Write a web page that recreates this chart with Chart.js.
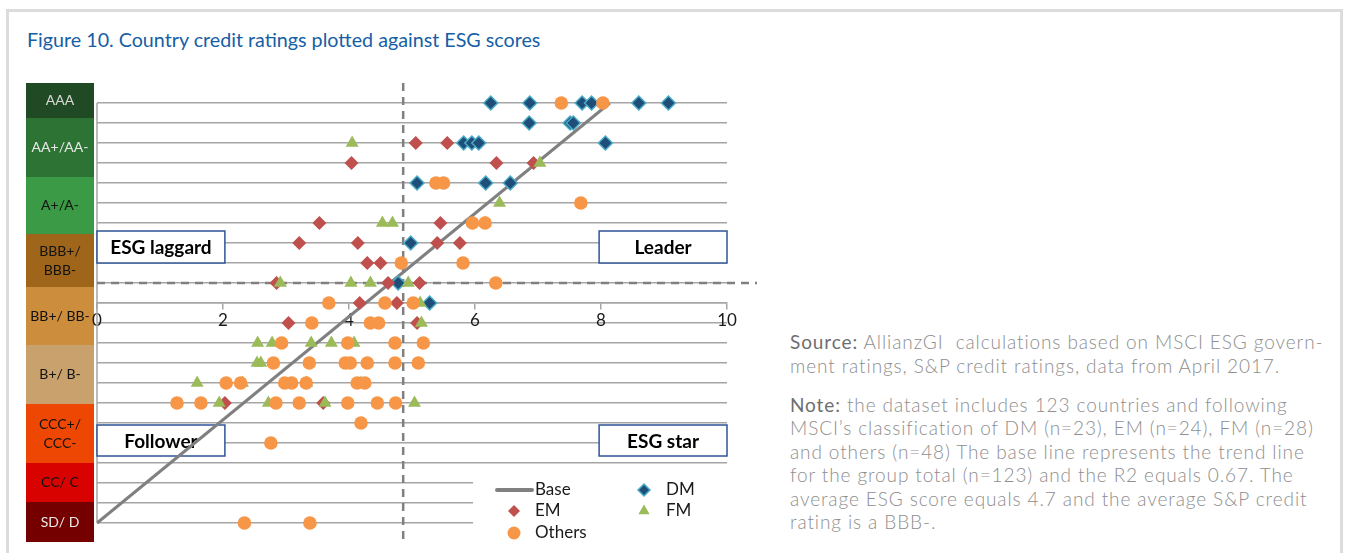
<!DOCTYPE html>
<html>
<head>
<meta charset="utf-8">
<script src="https://cdn.jsdelivr.net/npm/chart.js@4.4.1/dist/chart.umd.min.js"></script>
<style>
  html, body { margin: 0; padding: 0; background: #fff; }
  body { width: 1351px; height: 553px; position: relative; overflow: hidden; font-family: Lato, 'Open Sans', sans-serif; }
  .frame { position: absolute; left: 6px; top: 9px; width: 1331px; height: 600px; border: 3px solid #dcdcdc; }
  .title { position: absolute; left: 27px; top: 28px; font-size: 19.7px; color: #1560a5; white-space: nowrap; }
  #wrap { position: absolute; left: 0; top: 0; width: 780px; height: 553px; }
  .note { position: absolute; left: 790px; top: 330px; font-size: 19px; letter-spacing: 0.9px; line-height: 23.5px; color: #8e8e8e; font-weight: 300; white-space: nowrap; }
  .note b { font-weight: 400; color: #6e6e6e; }
  .note p { margin: 0 0 15.5px 0; }
</style>
</head>
<body>
<div class="frame"></div>
<div class="title">Figure 10. Country credit ratings plotted against ESG scores</div>
<div id="wrap"><canvas id="esgChart"></canvas></div>
<div class="note">
  <p><b>Source:</b> AllianzGI&nbsp; calculations based on MSCI ESG govern-<br>ment ratings, S&amp;P credit ratings, data from April 2017.</p>
  <p><b>Note:</b> the dataset includes 123 countries and following<br>MSCI’s classification of DM (n=23), EM (n=24), FM (n=28)<br>and others (n=48) The base line represents the trend line<br>for the group total (n=123) and the R2 equals 0.67. The<br>average ESG score equals 4.7 and the average S&amp;P credit<br>rating is a BBB-.</p>
</div>
<script>
// rating scale, bottom (index 0) to top
const ratingLevels = ['SD/D', 'C', 'CC', 'CCC-', 'CCC', 'CCC+', 'B-', 'B', 'B+', 'BB-', 'BB', 'BB+',
  'BBB-', 'BBB', 'BBB+', 'A-', 'A', 'A+', 'AA-', 'AA', 'AA+', 'AAA'];

// coloured rating bands on the left
const bandLabels = ['AAA', 'AA+/AA-', 'A+/A-', 'BBB+/\nBBB-', 'BB+/ BB-', 'B+/ B-', 'CCC+/\nCCC-', 'CC/ C', 'SD/ D'];
const bandEdges = [22, 20.25, 17.3, 14.45, 11.8, 8.9, 5.95, 3.0, 1.05, -0.95];
const bandColors = ['#1f4a24', '#2c7334', '#3b9a45', '#9f661b', '#cc8e3c', '#c9a16c', '#ee4704', '#d80300', '#750000'];
const bandTextColors = ['#d8d8d8', '#e8e8e8', '#111', '#111', '#111', '#111', '#111', '#111', '#e8e8e8'];

const esgTicks = [0, 2, 4, 6, 8, 10];

// [ESG score, S&P rating]
const dmPoints = [
  [6.25, 'AAA'], [6.87, 'AAA'], [7.70, 'AAA'], [7.85, 'AAA'], [8.60, 'AAA'], [9.07, 'AAA'],
  [6.86, 'AA+'], [7.51, 'AA+'], [7.56, 'AA+'],
  [5.82, 'AA'], [5.95, 'AA'], [6.06, 'AA'], [8.07, 'AA'],
  [5.08, 'A+'], [6.17, 'A+'], [6.56, 'A+'],
  [4.98, 'BBB+'], [4.78, 'BBB-'], [5.28, 'BB+']
];
const emPoints = [
  [5.06, 'AA'], [5.56, 'AA'],
  [4.04, 'AA-'], [6.34, 'AA-'], [6.93, 'AA-'],
  [3.53, 'A-'], [5.45, 'A-'],
  [3.21, 'BBB+'], [4.14, 'BBB+'], [5.40, 'BBB+'], [5.76, 'BBB+'],
  [4.29, 'BBB'], [4.50, 'BBB'],
  [2.85, 'BBB-'], [4.62, 'BBB-'], [5.12, 'BBB-'],
  [4.17, 'BB+'], [4.76, 'BB+'],
  [3.04, 'BB'], [5.08, 'BB'],
  [2.03, 'B-'], [3.59, 'B-']
];
const fmPoints = [
  [4.05, 'AA'], [7.03, 'AA-'], [6.39, 'A'],
  [4.53, 'A-'], [4.69, 'A-'], [6.16, 'A-'],
  [2.91, 'BBB-'], [4.03, 'BBB-'], [4.34, 'BBB-'], [4.94, 'BBB-'],
  [5.13, 'BB+'], [5.15, 'BB'],
  [2.55, 'BB-'], [2.78, 'BB-'], [3.40, 'BB-'], [3.72, 'BB-'], [4.08, 'BB-'],
  [2.54, 'B+'], [2.60, 'B+'],
  [1.59, 'B'], [2.31, 'B'], [3.33, 'B'], [4.19, 'B'],
  [1.94, 'B-'], [2.72, 'B-'], [3.62, 'B-'], [5.04, 'B-']
];
const otherPoints = [
  [7.37, 'AAA'], [8.03, 'AAA'],
  [5.38, 'A+'], [5.50, 'A+'], [7.68, 'A'],
  [5.96, 'A-'], [6.16, 'A-'],
  [4.83, 'BBB'], [5.81, 'BBB'], [6.33, 'BBB-'],
  [3.68, 'BB+'], [4.57, 'BB+'], [5.02, 'BB+'],
  [3.41, 'BB'], [4.34, 'BB'], [4.47, 'BB'],
  [2.93, 'BB-'], [3.98, 'BB-'], [4.73, 'BB-'], [5.18, 'BB-'],
  [2.80, 'B+'], [3.37, 'B+'], [3.94, 'B+'], [4.02, 'B+'], [4.29, 'B+'], [4.73, 'B+'], [5.10, 'B+'],
  [2.05, 'B'], [2.28, 'B'], [2.98, 'B'], [3.09, 'B'], [3.32, 'B'], [4.13, 'B'], [4.25, 'B'],
  [1.27, 'B-'], [1.65, 'B-'], [2.84, 'B-'], [3.21, 'B-'], [3.98, 'B-'], [4.45, 'B-'], [4.74, 'B-'],
  [4.19, 'CCC+'], [2.76, 'CCC'],
  [2.34, 'SD/D'], [3.38, 'SD/D']
];
const basePoints = [[0, 'SD/D'], [8.14, 'AAA']];

const avgEsg = 4.86;
const avgRating = 'BBB-';

const toXY = pts => pts.map(([x, r]) => ({ x: x, y: ratingLevels.indexOf(r) }));

const gridColor = '#a5a5a5';
const font = 'Lato, "Open Sans", sans-serif';

const decor = {
  id: 'decor',
  beforeDraw(chart) {
    const { ctx, chartArea: ca, scales: { y } } = chart;
    ctx.save();
    bandLabels.forEach((label, i) => {
      const top = y.getPixelForValue(bandEdges[i]);
      const bot = y.getPixelForValue(bandEdges[i + 1]);
      ctx.fillStyle = bandColors[i];
      ctx.fillRect(ca.left - 71, top, 68, bot - top);
      ctx.fillStyle = bandTextColors[i];
      ctx.font = '14px ' + font;
      ctx.textAlign = 'center';
      ctx.textBaseline = 'middle';
      const lines = label.split('\n');
      const mid = (top + bot) / 2;
      lines.forEach((ln, k) => {
        ctx.fillText(ln, ca.left - 37, mid + (k - (lines.length - 1) / 2) * 19);
      });
    });
    ctx.restore();
  },
  beforeDatasetsDraw(chart) {
    const { ctx, chartArea: ca, scales: { x, y } } = chart;
    ctx.save();
    // left axis line
    ctx.strokeStyle = gridColor;
    ctx.lineWidth = 1.5;
    ctx.beginPath();
    ctx.moveTo(x.getPixelForValue(0), y.getPixelForValue(0));
    ctx.lineTo(x.getPixelForValue(0), y.getPixelForValue(ratingLevels.length - 1));
    ctx.stroke();

    // quadrant boxes
    const boxes = [
      ['ESG laggard', 0, 2.03, 14.6, 13.0],
      ['Leader', 7.97, 10, 14.6, 13.0],
      ['Follower', 0, 2.03, 4.9, 3.35],
      ['ESG star', 7.97, 10, 4.9, 3.35]
    ];
    boxes.forEach(([txt, x0, x1, y0, y1]) => {
      const l = x.getPixelForValue(x0), r = x.getPixelForValue(x1);
      const t = y.getPixelForValue(y0), b = y.getPixelForValue(y1);
      ctx.fillStyle = '#fff';
      ctx.fillRect(l, t, r - l, b - t);
      ctx.strokeStyle = '#2f5496';
      ctx.lineWidth = 1.5;
      ctx.strokeRect(l, t, r - l, b - t);
      ctx.fillStyle = '#000';
      ctx.font = 'bold 19px ' + font;
      ctx.textAlign = 'center';
      ctx.textBaseline = 'middle';
      ctx.fillText(txt, (l + r) / 2, (t + b) / 2 + 1);
    });

    // average lines
    ctx.strokeStyle = '#808080';
    ctx.lineWidth = 2.5;
    ctx.setLineDash([8, 6]);
    const ax = x.getPixelForValue(avgEsg);
    ctx.beginPath();
    ctx.moveTo(ax, ca.top);
    ctx.lineTo(ax, ca.bottom + 2);
    ctx.stroke();
    const ay = y.getPixelForValue(ratingLevels.indexOf(avgRating));
    ctx.beginPath();
    ctx.moveTo(ca.left, ay);
    ctx.lineTo(ca.right + 30, ay);
    ctx.stroke();
    ctx.restore();
  },
  afterDraw(chart) {
    const { ctx, chartArea: ca } = chart;
    const ds = chart.data.datasets;
    const byLabel = l => ds.find(d => d.label === l);
    const left = ca.right - 254, top = ca.bottom - 70;
    ctx.save();
    ctx.fillStyle = '#fff';
    ctx.fillRect(left, top, ca.right - left + 1, ca.bottom - top + 4);
    const items = [
      ['Base', 0, ca.bottom - 53], ['DM', 1, ca.bottom - 53],
      ['EM', 0, ca.bottom - 32], ['FM', 1, ca.bottom - 32],
      ['Others', 0, ca.bottom - 10]
    ];
    items.forEach(([label, col, yy]) => {
      const d = byLabel(label);
      const mx = left + (col ? 171 : 41);
      if (label === 'Base') {
        ctx.strokeStyle = d.borderColor;
        ctx.lineWidth = 4;
        ctx.lineCap = 'round';
        ctx.beginPath();
        ctx.moveTo(left + 24, yy);
        ctx.lineTo(left + 59, yy);
        ctx.stroke();
      } else {
        ctx.fillStyle = d.backgroundColor;
        ctx.strokeStyle = d.borderColor;
        ctx.lineWidth = d.borderWidth;
        Chart.helpers.drawPoint(ctx, { pointStyle: d.pointStyle, radius: label === 'EM' || label === 'DM' ? 6 : 6.5, rotation: 0, borderWidth: d.borderWidth }, mx, yy);
      }
      ctx.fillStyle = '#1a1a1a';
      ctx.font = '17px ' + font;
      ctx.textAlign = 'left';
      ctx.textBaseline = 'middle';
      ctx.fillText(label, left + (col ? 193 : 62), yy);
    });
    ctx.restore();
  }
};

new Chart(document.getElementById('esgChart'), {
  type: 'scatter',
  data: {
    datasets: [
      {
        label: 'Base', type: 'line', data: toXY(basePoints), showLine: true,
        borderColor: '#808080', borderWidth: 3, pointRadius: 0, order: 4
      },
      {
        label: 'DM', data: toXY(dmPoints), pointStyle: 'rectRot', pointRadius: 7,
        backgroundColor: '#1f4e79', borderColor: '#4bacc6', borderWidth: 1.5, order: 3
      },
      {
        label: 'EM', data: toXY(emPoints), pointStyle: 'rectRot', pointRadius: 7,
        backgroundColor: '#c0504d', borderColor: '#c0504d', borderWidth: 0, order: 2
      },
      {
        label: 'FM', data: toXY(fmPoints), pointStyle: 'triangle', pointRadius: 7.5,
        backgroundColor: '#9bbb59', borderColor: '#9bbb59', borderWidth: 0, order: 1
      },
      {
        label: 'Others', data: toXY(otherPoints), pointStyle: 'circle', pointRadius: 6.8,
        backgroundColor: '#f79646', borderColor: '#f79646', borderWidth: 0, order: 0
      }
    ]
  },
  options: {
    responsive: true,
    maintainAspectRatio: false,
    animation: false,
    events: [],
    layout: { padding: { left: 97, top: 83, right: 53, bottom: 10 } },
    plugins: { legend: { display: false }, tooltip: { enabled: false } },
    scales: {
      x: {
        type: 'linear',
        min: 0, max: 10,
        position: { y: ratingLevels.indexOf('BB+') },
        afterBuildTicks: axis => { axis.ticks = esgTicks.map(v => ({ value: v })); },
        grid: { drawOnChartArea: false, drawTicks: true, tickLength: 6, color: gridColor, lineWidth: 1.5 },
        border: { color: gridColor, width: 1.5 },
        ticks: { color: '#1a1a1a', font: { family: font, size: 17 }, padding: 1, maxRotation: 0 }
      },
      y: {
        type: 'linear',
        min: -1, max: 22,
        afterBuildTicks: axis => { axis.ticks = ratingLevels.map((r, i) => ({ value: i })); },
        afterFit: axis => { axis.width = 0; },
        grid: { drawTicks: false, color: gridColor, lineWidth: 1.5 },
        border: { display: false },
        ticks: { display: false }
      }
    }
  },
  plugins: [decor]
});
</script>
</body>
</html>
